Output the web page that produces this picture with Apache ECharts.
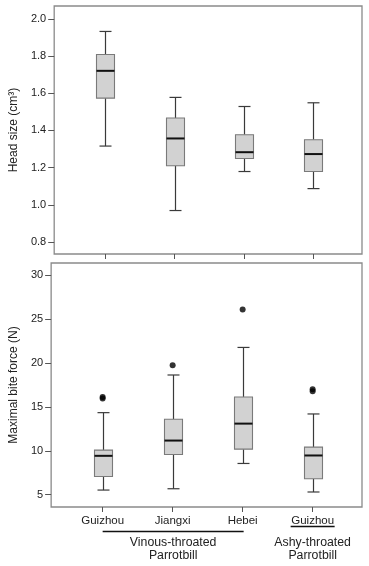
<!DOCTYPE html>
<html>
<head>
<meta charset="utf-8">
<script src="https://cdn.jsdelivr.net/npm/echarts@6/dist/echarts.min.js"></script>
<style>
html,body{margin:0;padding:0;background:#fff;}
#c{width:369px;height:566px;}
</style>
</head>
<body>
<div id="c"></div>
<script>
// ---- data ----
const categories = ['Guizhou', 'Jiangxi', 'Hebei', 'Guizhou'];
const catPos = [1, 2, 3, 4];
// [low whisker, Q1, median, Q3, high whisker]
const headGuizhou = [1.316, 1.574, 1.721, 1.809, 1.933];
const headJiangxi = [0.969, 1.210, 1.357, 1.467, 1.578];
const headHebei   = [1.179, 1.249, 1.283, 1.377, 1.529];
const headAshy    = [1.087, 1.179, 1.273, 1.350, 1.549];
const biteGuizhou = [5.53, 7.08, 9.43, 10.08, 14.35];
const biteJiangxi = [5.68, 9.58, 11.17, 13.60, 18.64];
const biteHebei   = [8.56, 10.19, 13.10, 16.14, 21.78];
const biteAshy    = [5.31, 6.82, 9.47, 10.42, 14.20];
// outliers: [category position, value]
const biteOutliers = [[1, 16.14], [1, 15.95], [2, 19.74], [3, 26.1], [4, 17.01], [4, 16.78]];
const headTicks = [0.8, 1.0, 1.2, 1.4, 1.6, 1.8, 2.0];
const biteTicks = [5, 10, 15, 20, 25, 30];
const groups = [
  {from: 1, to: 3, label: 'Vinous-throated\nParrotbill'},
  {from: 4, to: 4, label: 'Ashy-throated\nParrotbill'}
];

const headRows = [headGuizhou, headJiangxi, headHebei, headAshy].map((r, i) => [catPos[i]].concat(r));
const biteRows = [biteGuizhou, biteJiangxi, biteHebei, biteAshy].map((r, i) => [catPos[i]].concat(r));

const FONT = 'Liberation Sans, Arial, sans-serif';
const WHISK = '#3a3a3a';

function renderBox(params, api) {
  const x = api.value(0);
  const pL = api.coord([x, api.value(1)]);
  const p1 = api.coord([x, api.value(2)]);
  const pM = api.coord([x, api.value(3)]);
  const p3 = api.coord([x, api.value(4)]);
  const pH = api.coord([x, api.value(5)]);
  const cx = Math.round(pL[0]) + 0.5;
  const bw = 18, cw = 12;
  const ls = {stroke: WHISK, lineWidth: 1.2};
  return {
    type: 'group',
    children: [
      {type: 'line', shape: {x1: cx, y1: pL[1], x2: cx, y2: p1[1]}, style: ls},
      {type: 'line', shape: {x1: cx, y1: p3[1], x2: cx, y2: pH[1]}, style: ls},
      {type: 'line', shape: {x1: cx - cw / 2, y1: pL[1], x2: cx + cw / 2, y2: pL[1]}, style: ls},
      {type: 'line', shape: {x1: cx - cw / 2, y1: pH[1], x2: cx + cw / 2, y2: pH[1]}, style: ls},
      {type: 'rect', shape: {x: cx - bw / 2, y: p3[1], width: bw, height: p1[1] - p3[1]},
        style: {fill: '#d2d2d2', stroke: '#7a7a7a', lineWidth: 1.1}},
      {type: 'line', shape: {x1: cx - bw / 2, y1: pM[1], x2: cx + bw / 2, y2: pM[1]},
        style: {stroke: '#111', lineWidth: 2}}
    ]
  };
}

const xAxisBase = {
  type: 'value', min: 0.264, max: 4.705,
  axisLine: {show: false},
  splitLine: {show: false},
  axisTick: {show: true, length: 5, customValues: catPos, lineStyle: {color: '#555'}},
};
const yAxisBase = {
  type: 'value',
  nameLocation: 'middle',
  nameRotate: 90,
  nameGap: 31,
  nameTextStyle: {fontFamily: FONT, fontSize: 12, color: '#222'},
  axisLine: {show: false},
  splitLine: {show: false},
  axisTick: {show: true, length: 6, lineStyle: {color: '#555'}},
  axisLabel: {fontFamily: FONT, fontSize: 11, color: '#222', margin: 8}
};

const chart = echarts.init(document.getElementById('c'), null, {renderer: 'canvas'});
chart.setOption({
  animation: false,
  backgroundColor: '#fff',
  grid: [
    {left: 48, top: 6, width: 314, height: 248, show: true, borderColor: '#8a8a8a', borderWidth: 1.3, backgroundColor: 'transparent'},
    {left: 48, top: 263, width: 314, height: 244, show: true, borderColor: '#8a8a8a', borderWidth: 1.3, backgroundColor: 'transparent'}
  ],
  xAxis: [
    Object.assign({}, xAxisBase, {gridIndex: 0, axisLabel: {show: false}}),
    Object.assign({}, xAxisBase, {gridIndex: 1, axisLabel: {
      show: true, customValues: catPos, margin: 8,
      fontFamily: FONT, fontSize: 11.5, color: '#222',
      formatter: v => categories[Math.round(v) - 1]
    }})
  ],
  yAxis: [
    Object.assign({}, yAxisBase, {gridIndex: 0, min: 0.735, max: 2.07, name: 'Head size (cm³)',
      axisTick: Object.assign({}, yAxisBase.axisTick, {customValues: headTicks}),
      axisLabel: Object.assign({}, yAxisBase.axisLabel, {customValues: headTicks, formatter: v => v.toFixed(1)})}),
    Object.assign({}, yAxisBase, {gridIndex: 1, min: 3.6, max: 31.4, name: 'Maximal bite force (N)',
      axisTick: Object.assign({}, yAxisBase.axisTick, {customValues: biteTicks}),
      axisLabel: Object.assign({}, yAxisBase.axisLabel, {customValues: biteTicks})})
  ],
  series: [
    {type: 'custom', xAxisIndex: 0, yAxisIndex: 0, renderItem: renderBox, data: headRows,
      encode: {x: 0, y: [1, 2, 3, 4, 5]}, clip: false},
    {type: 'custom', xAxisIndex: 1, yAxisIndex: 1, renderItem: renderBox, data: biteRows,
      encode: {x: 0, y: [1, 2, 3, 4, 5]}, clip: false},
    {type: 'scatter', xAxisIndex: 1, yAxisIndex: 1, data: biteOutliers, symbol: 'circle', symbolSize: 6,
      itemStyle: {color: '#000'}}
  ]
});

// group annotations under the bottom axis
const graphics = [];
groups.forEach(g => {
  const a = chart.convertToPixel({xAxisIndex: 1}, g.from);
  const b = chart.convertToPixel({xAxisIndex: 1}, g.to);
  let x1, x2, ly;
  if (g.from === g.to) { x1 = a - 22; x2 = a + 22; ly = 526.5; }
  else { x1 = a; x2 = b + 1; ly = 531.5; }
  graphics.push({type: 'line', shape: {x1: x1, y1: ly, x2: x2, y2: ly}, style: {stroke: '#111', lineWidth: 1.3}});
  graphics.push({type: 'text', x: (x1 + x2) / 2, y: 535.5, style: {
    text: g.label, fontFamily: FONT, fontSize: 12.3, fill: '#222',
    align: 'center', verticalAlign: 'top', lineHeight: 13.5
  }});
});
chart.setOption({graphic: graphics});
</script>
</body>
</html>
